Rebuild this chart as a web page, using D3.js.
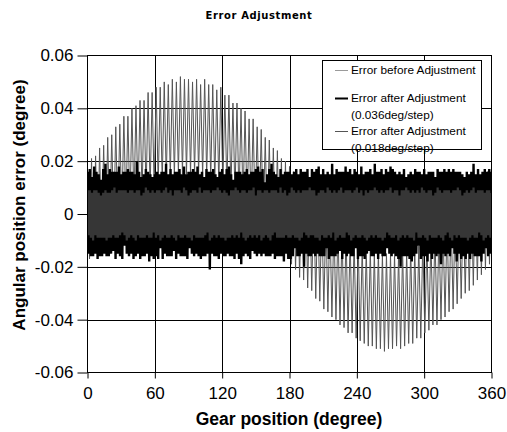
<!DOCTYPE html>
<html><head><meta charset="utf-8">
<script src="https://cdn.jsdelivr.net/npm/d3@7"></script>
<style>body{margin:0;background:#fff}svg{display:block}</style>
</head><body><svg id="c" width="507" height="432"></svg>
<script>
const chartTitle = "Error Adjustment";
const xTitle = "Gear position (degree)";
const yTitle = "Angular position error (degree)";
const xTicks = [0, 60, 120, 180, 240, 300, 360];
const xTickLabels = ["0", "60", "120", "180", "240", "300", "360"];
const yTicks = [-0.06, -0.04, -0.02, 0, 0.02, 0.04, 0.06];
const yTickLabels = ["-0.06", "-0.04", "-0.02", "0", "0.02", "0.04", "0.06"];
const legendLines = [
  ["Error before Adjustment"],
  ["Error after Adjustment", "(0.036deg/step)"],
  ["Error after Adjustment", "(0.018deg/step)"]
];
// Error before adjustment, sampled every 1.8 degree (0..360)
const beforeValues = [
.018,-.017,.021,-.015,.022,-.013,.025,-.011,.026,-.009,
.029,-.007,.030,-.005,.033,-.003,.034,-.001,.037,.001,
.037,.002,.040,.004,.041,.005,.043,.007,.043,.008,
.046,.009,.046,.010,.048,.011,.048,.012,.050,.013,
.049,.014,.051,.014,.050,.015,.052,.015,.051,.015,
.051,.015,.050,.015,.051,.015,.049,.014,.051,.014,
.049,.013,.049,.012,.047,.011,.048,.010,.045,.009,
.045,.008,.042,.007,.042,.005,.040,.004,.039,.002,
.036,.001,.036,-.001,.033,-.003,.032,-.005,.029,-.007,
.028,-.009,.025,-.011,.024,-.013,.021,-.015,.020,-.017,
.018,-.019,.016,-.021,.014,-.024,.012,-.025,.010,-.028,
.008,-.029,.006,-.032,.004,-.033,.002,-.036,.000,-.037,
-.001,-.039,-.003,-.040,-.005,-.042,-.006,-.043,-.007,-.045,
-.009,-.045,-.010,-.047,-.010,-.048,-.012,-.049,-.013,-.050,
-.013,-.050,-.014,-.051,-.014,-.051,-.015,-.052,-.015,-.051,
-.015,-.051,-.015,-.050,-.015,-.051,-.014,-.050,-.014,-.049,
-.013,-.049,-.013,-.047,-.012,-.047,-.010,-.045,-.010,-.044,
-.009,-.042,-.007,-.042,-.006,-.040,-.005,-.039,-.003,-.037,
-.001,-.036,.000,-.034,.002,-.032,.004,-.030,.006,-.029,
.008,-.027,.010,-.025,.012,-.023,.014,-.021,.016,-.019,
.018];
// Error after adjustment (0.036deg/step), sampled every 1 degree
const after036Values = [
.016,-.015,.017,-.016,.014,-.016,.018,-.015,.016,-.017,.015,-.016,.013,-.016,.017,-.015,.019,-.016,.015,-.016,
.017,-.015,.016,-.014,.016,-.017,.016,-.015,.018,-.016,.015,-.017,.016,-.012,.016,-.015,.017,-.016,.016,-.015,
.016,-.017,.015,-.016,.020,-.015,.016,-.017,.014,-.016,.015,-.016,.017,-.015,.016,-.018,.015,-.016,.014,-.017,
.015,-.016,.016,-.017,.015,-.013,.016,-.017,.016,-.015,.019,-.016,.015,-.016,.017,-.016,.015,-.014,.016,-.017,
.016,-.015,.017,-.016,.015,-.016,.018,-.016,.015,-.017,.016,-.013,.016,-.015,.017,-.016,.016,-.015,.018,-.016,
.015,-.017,.016,-.016,.014,-.016,.017,-.015,.016,-.021,.016,-.015,.017,-.016,.015,-.016,.014,-.017,.016,-.015,
.017,-.016,.015,-.016,.017,-.015,.018,-.016,.015,-.016,.013,-.017,.016,-.015,.016,-.017,.016,-.019,.015,-.016,
.016,-.015,.017,-.016,.015,-.017,.016,-.014,.016,-.015,.017,-.016,.018,-.015,.016,-.016,.017,-.015,.012,-.016,
.015,-.016,.017,-.016,.019,-.015,.016,-.017,.015,-.016,.014,-.016,.017,-.016,.015,-.018,.016,-.015,.016,-.017,
.016,-.017,.015,-.016,.016,-.013,.017,-.016,.015,-.016,.017,-.015,.016,-.020,.016,-.015,.017,-.016,.014,-.016,
.017,-.015,.016,-.016,.017,-.015,.018,-.016,.015,-.016,.017,-.016,.015,-.013,.016,-.017,.015,-.016,.019,-.016,
.015,-.016,.017,-.015,.016,-.014,.016,-.017,.016,-.015,.018,-.016,.016,-.015,.017,-.016,.015,-.016,.017,-.013,
.016,-.017,.015,-.016,.018,-.016,.015,-.017,.016,-.015,.016,-.014,.017,-.016,.015,-.016,.019,-.015,.016,-.017,
.016,-.015,.017,-.016,.015,-.016,.017,-.013,.016,-.015,.018,-.016,.017,-.015,.016,-.016,.015,-.017,.016,-.020,
.015,-.016,.017,-.016,.014,-.016,.015,-.017,.016,-.018,.015,-.016,.017,-.015,.016,-.012,.016,-.017,.015,-.016,
.017,-.016,.015,-.018,.016,-.015,.016,-.017,.016,-.015,.014,-.016,.017,-.015,.016,-.019,.016,-.015,.017,-.016,
.016,-.015,.017,-.016,.016,-.013,.017,-.015,.016,-.018,.016,-.015,.016,-.017,.015,-.016,.014,-.017,.016,-.015,
.015,-.017,.016,-.015,.019,-.016,.015,-.016,.017,-.016,.015,-.018,.016,-.015,.017,-.013,.016,-.016,.017,-.015,
.016];
// Error after adjustment (0.018deg/step), sampled every 1 degree
const after018Values = [
.009,-.008,.009,-.009,.008,-.010,.009,-.008,.009,-.009,.008,-.009,.007,-.009,.008,-.009,.009,-.010,.008,-.009,
.008,-.009,.009,-.008,.010,-.009,.008,-.009,.009,-.008,.009,-.007,.009,-.008,.009,-.010,.008,-.009,.009,-.008,
.009,-.009,.008,-.010,.009,-.008,.009,-.009,.007,-.009,.008,-.009,.010,-.008,.009,-.009,.008,-.009,.009,-.007,
.008,-.009,.009,-.008,.009,-.010,.008,-.009,.009,-.008,.010,-.009,.008,-.009,.009,-.008,.007,-.009,.009,-.010,
.009,-.008,.009,-.009,.008,-.009,.010,-.008,.009,-.009,.007,-.009,.008,-.010,.009,-.008,.009,-.009,.008,-.009,
.010,-.009,.008,-.009,.009,-.008,.009,-.007,.009,-.010,.008,-.009,.009,-.008,.009,-.009,.010,-.008,.009,-.009,
.008,-.009,.009,-.010,.008,-.009,.007,-.009,.009,-.008,.009,-.009,.010,-.008,.009,-.009,.008,-.007,.009,-.009,
.009,-.010,.008,-.009,.009,-.008,.009,-.009,.010,-.008,.007,-.009,.009,-.008,.009,-.010,.008,-.009,.009,-.008,
.009,-.009,.008,-.010,.009,-.008,.009,-.007,.009,-.009,.008,-.009,.010,-.009,.008,-.009,.009,-.008,.007,-.009,
.008,-.009,.010,-.008,.009,-.009,.008,-.009,.009,-.010,.008,-.009,.009,-.007,.009,-.008,.009,-.009,.010,-.008,
.009,-.008,.009,-.009,.007,-.009,.008,-.010,.009,-.008,.009,-.009,.008,-.009,.010,-.008,.009,-.009,.008,-.007,
.009,-.010,.008,-.009,.009,-.008,.010,-.009,.008,-.009,.009,-.007,.009,-.008,.009,-.010,.008,-.009,.009,-.008,
.010,-.009,.008,-.009,.009,-.008,.007,-.009,.009,-.010,.008,-.009,.009,-.008,.009,-.009,.010,-.008,.009,-.009,
.008,-.009,.009,-.010,.008,-.009,.009,-.007,.009,-.008,.010,-.009,.008,-.009,.009,-.008,.009,-.010,.007,-.009,
.009,-.008,.009,-.009,.010,-.008,.009,-.009,.008,-.009,.009,-.010,.008,-.007,.009,-.009,.008,-.009,.010,-.008,
.009,-.009,.008,-.010,.009,-.008,.009,-.009,.007,-.009,.008,-.009,.010,-.008,.009,-.009,.008,-.010,.009,-.008,
.009,-.007,.009,-.009,.008,-.010,.009,-.008,.009,-.009,.010,-.008,.009,-.009,.007,-.009,.008,-.009,.009,-.010,
.008,-.009,.009,-.008,.010,-.009,.008,-.009,.009,-.007,.009,-.008,.009,-.010,.008,-.009,.009,-.008,.009,-.009,
.008];

const svg = d3.select("#c");
const L = 87.5, R = 491.5, T = 55.5, B = 372.5;
const x = d3.scaleLinear().domain([0, 360]).range([L, R]);
const y = d3.scaleLinear().domain([-0.06, 0.06]).range([B, T]);
const FONT = "'Liberation Sans', Arial, sans-serif";

// gridlines
const g = svg.append("g");
g.selectAll("line.v").data(xTicks.slice(1, -1)).enter().append("line")
  .attr("x1", d => Math.round(x(d)) + 0.5).attr("x2", d => Math.round(x(d)) + 0.5)
  .attr("y1", T).attr("y2", B).attr("stroke", "#000").attr("stroke-width", 1);
g.selectAll("line.h").data(yTicks.slice(1, -1)).enter().append("line")
  .attr("y1", d => Math.round(y(d)) + 0.5).attr("y2", d => Math.round(y(d)) + 0.5)
  .attr("x1", L).attr("x2", R).attr("stroke", "#000").attr("stroke-width", 1);

// series
function xsFor(vals) { const step = 360 / (vals.length - 1); return vals.map((v, i) => [i * step, v]); }
const line = d3.line().x(d => x(d[0])).y(d => y(d[1]));
svg.append("clipPath").attr("id", "pc").append("rect")
  .attr("x", L).attr("y", T).attr("width", R - L).attr("height", B - T);
const sg = svg.append("g").attr("clip-path", "url(#pc)");
sg.append("path").datum(xsFor(beforeValues)).attr("d", line)
  .attr("fill", "none").attr("stroke", "#555").attr("stroke-width", 1);
sg.append("path").datum(xsFor(after036Values)).attr("d", line)
  .attr("fill", "none").attr("stroke", "#000").attr("stroke-width", 2.4);
sg.append("path").datum(xsFor(after018Values)).attr("d", line)
  .attr("fill", "none").attr("stroke", "#363636").attr("stroke-width", 2.2);

// frame
svg.append("rect").attr("x", L).attr("y", T).attr("width", R - L).attr("height", B - T)
  .attr("fill", "none").attr("stroke", "#000").attr("stroke-width", 1);

// axes
const yAxis = d3.axisLeft(y).tickValues(yTicks).tickSize(10).tickFormat((d, i) => yTickLabels[i]);
const ya = svg.append("g").attr("transform", `translate(${L},0)`).call(yAxis);
ya.select(".domain").remove();
ya.selectAll(".tick line").attr("stroke", "#000");
ya.selectAll(".tick text").attr("x", -14).attr("font-family", FONT).attr("font-size", 17).attr("fill", "#000");

const xAxis = d3.axisBottom(x).tickValues(xTicks).tickSize(6).tickFormat((d, i) => xTickLabels[i]);
const xa = svg.append("g").attr("transform", `translate(0,${B})`).call(xAxis);
xa.select(".domain").remove();
xa.selectAll(".tick line").attr("stroke", "#000");
xa.selectAll(".tick text").attr("y", 14).attr("font-family", FONT).attr("font-size", 17).attr("fill", "#000");

// titles
svg.append("text").attr("x", 259).attr("y", 19).attr("text-anchor", "middle")
  .attr("font-family", "'DejaVu Sans', Verdana, sans-serif").attr("font-weight", "bold")
  .attr("font-size", 10).attr("letter-spacing", 0.6).text(chartTitle);
svg.append("text").attr("x", 289).attr("y", 425).attr("text-anchor", "middle")
  .attr("font-family", FONT).attr("font-weight", "bold").attr("font-size", 17.5).text(xTitle);
svg.append("text").attr("transform", "translate(25,205) rotate(-90)").attr("text-anchor", "middle")
  .attr("font-family", FONT).attr("font-weight", "bold").attr("font-size", 17).text(yTitle);

// legend
const lg = svg.append("g");
lg.append("rect").attr("x", 322.5).attr("y", 60.5).attr("width", 159).attr("height", 89)
  .attr("fill", "#fff").attr("stroke", "#000").attr("stroke-width", 1);
const legendStyles = [
  { y: 70, stroke: "#9a9a9a", w: 1 },
  { y: 98, stroke: "#000", w: 2 },
  { y: 131, stroke: "#555", w: 1 }
];
legendLines.forEach((lines, i) => {
  const st = legendStyles[i];
  lg.append("line").attr("x1", 335).attr("x2", 348).attr("y1", st.y + 0.5).attr("y2", st.y + 0.5)
    .attr("stroke", st.stroke).attr("stroke-width", st.w);
  lines.forEach((t, j) => {
    lg.append("text").attr("x", 351).attr("y", st.y + 4 + j * 17)
      .attr("font-family", FONT).attr("font-size", 11.8).attr("fill", "#000").text(t);
  });
});
</script></body></html>
